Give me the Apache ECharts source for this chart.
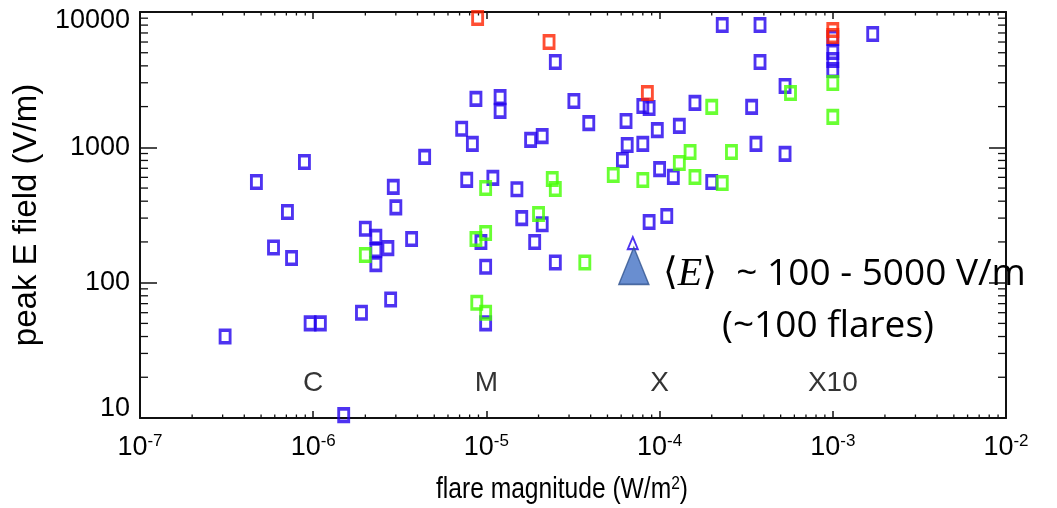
<!DOCTYPE html>
<html><head><meta charset="utf-8">
<script src="https://cdn.jsdelivr.net/npm/echarts@6/dist/echarts.min.js"></script>
<style>html,body{margin:0;padding:0;background:#fff}#c{width:1057px;height:508px}</style>
</head><body><div id="c"></div>
<script>
// ---- data ----
const xTickExponents = [-7, -6, -5, -4, -3, -2];
const yTickLabels = ['10', '100', '1000', '10000'];
const minorMultipliers = [2, 3, 4, 5, 6, 7, 8, 9];
const xDecades = [1e-7, 1e-6, 1e-5, 1e-4, 1e-3];
const yDecades = [10, 100, 1000];

const blueFlares = [
  [3.1e-7, 40], [4.7e-7, 555], [5.9e-7, 182], [7.1e-7, 333], [7.5e-7, 152],
  [8.9e-7, 780], [9.6e-7, 50], [1.1e-6, 50], [1.5e-6, 10.5], [1.9e-6, 60],
  [2.0e-6, 250], [2.3e-6, 218], [2.3e-6, 174], [2.3e-6, 137], [2.7e-6, 180],
  [2.8e-6, 75], [2.9e-6, 510], [3.0e-6, 360], [3.7e-6, 210], [4.4e-6, 850],
  [7.2e-6, 1370], [8.3e-6, 1060], [7.7e-6, 575], [8.7e-6, 2280], [1.2e-5, 2350],
  [1.2e-5, 1860], [1.09e-5, 595], [9.3e-6, 200], [9.9e-6, 131], [9.9e-6, 50],
  [1.5e-5, 490], [1.6e-5, 300], [2.1e-5, 270], [1.9e-5, 200], [1.8e-5, 1135],
  [2.1e-5, 1210], [2.5e-5, 4270], [2.5e-5, 141], [3.2e-5, 2200], [3.9e-5, 1510],
  [6.1e-5, 805], [6.5e-5, 1040], [8.0e-5, 1060], [6.4e-5, 1565], [8.0e-5, 2020],
  [8.7e-5, 1950], [9.7e-5, 1340], [1.0e-4, 690], [1.2e-4, 605], [8.7e-5, 281],
  [1.1e-4, 311], [1.3e-4, 1440], [1.6e-4, 2130], [2.0e-4, 555], [2.3e-4, 8020],
  [3.8e-4, 8020], [3.8e-4, 4270], [3.4e-4, 1990], [3.6e-4, 1060], [5.3e-4, 2840],
  [5.3e-4, 895], [1.0e-3, 6430], [1.0e-3, 5060], [1.0e-3, 4420], [1.0e-3, 3730],
  [1.7e-3, 6880]
];
const greenFlares = [
  [2.0e-6, 160], [9.9e-6, 500], [8.7e-6, 210], [9.9e-6, 233], [8.8e-6, 71],
  [9.9e-6, 60], [2.0e-5, 322], [2.4e-5, 583], [2.5e-5, 492], [3.7e-5, 141],
  [5.4e-5, 625], [8.0e-5, 574], [1.3e-4, 766], [1.5e-4, 924], [1.6e-4, 604],
  [2.0e-4, 1990], [2.3e-4, 545], [2.6e-4, 924], [5.7e-4, 2520], [1.0e-3, 2990],
  [1.0e-3, 1680]
];
const redFlares = [
  [8.9e-6, 9030], [2.3e-5, 6000], [8.5e-5, 2520], [1.0e-3, 7360], [1.0e-3, 6650]
];
const triangleFlares = [[7.0e-5, 196]];
const meanMarker = [[7.1e-5, 133]];
const classPositions = [1e-6, 1e-5, 1e-4, 1e-3];
const classNames = ['C', 'M', 'X', 'X10'];
const classLabelY = 18;

// ---- styling ----
const SANS = '"Liberation Sans", Arial, Helvetica, sans-serif';
const AXC = '#111';
const BLUE = '#2200ee', GREEN = '#44ff00', RED = '#ff2200';

const xMinor = [];
xDecades.forEach(d => minorMultipliers.forEach(m => xMinor.push([m * d, 10])));
const yMinor = [];
yDecades.forEach(d => minorMultipliers.forEach(m => yMinor.push([1e-7, m * d])));

function squareSeries(name, data, color, z) {
  return {
    name, type: 'scatter', data, z,
    symbol: 'rect', symbolSize: [10, 12.5],
    itemStyle: { color: 'rgba(0,0,0,0)', borderColor: color, borderWidth: 3.2 },
    emphasis: { disabled: true }, silent: true
  };
}

const chart = echarts.init(document.getElementById('c'), null, { renderer: 'canvas' });
const xBase = {
  type: 'log', logBase: 10, min: 1e-7, max: 1e-2,
  splitLine: { show: false }, minorTick: { show: false },
  axisLine: { show: true, lineStyle: { color: AXC, width: 2 } },
  axisTick: { show: true, inside: true, length: 7, lineStyle: { color: AXC, width: 1.5 } }
};
const yBase = {
  type: 'log', logBase: 10, min: 10, max: 10000,
  splitLine: { show: false }, minorTick: { show: false },
  axisLine: { show: true, lineStyle: { color: AXC, width: 2 } },
  axisTick: { show: true, inside: true, length: 17, lineStyle: { color: AXC, width: 1.5 } }
};

chart.setOption({
  animation: false,
  backgroundColor: '#fff',
  grid: { left: 140, right: 51, top: 12, bottom: 90 },
  xAxis: [
    Object.assign({}, xBase, {
      position: 'bottom',
      axisLabel: {
        margin: 15,
        formatter: v => '{b|10}{s|' + Math.round(Math.log10(v)) + '}',
        rich: {
          b: { fontFamily: SANS, fontSize: 27, color: '#000', lineHeight: 30 },
          s: { fontFamily: SANS, fontSize: 17, color: '#000', verticalAlign: 'top', lineHeight: 17 }
        }
      }
    }),
    Object.assign({}, xBase, { position: 'top', axisLabel: { show: false } })
  ],
  yAxis: [
    Object.assign({}, yBase, {
      position: 'left',
      name: 'peak E field (V/m)',
      nameLocation: 'middle', nameGap: 97, nameRotate: 90,
      nameTextStyle: { fontFamily: SANS, fontSize: 33, color: '#000' },
      axisLabel: {
        margin: 10,
        formatter: v => {
          const s = String(Math.round(v));
          if (s === yTickLabels[3]) return '{hi|' + s + '}';
          if (s === yTickLabels[0]) return '{lo|' + s + '}';
          return '{n|' + s + '}';
        },
        rich: {
          n: { fontFamily: SANS, fontSize: 27, color: '#000' },
          hi: { fontFamily: SANS, fontSize: 27, color: '#000', padding: [18, 0, 0, 0] },
          lo: { fontFamily: SANS, fontSize: 27, color: '#000', padding: [0, 0, 19, 0] }
        }
      }
    }),
    Object.assign({}, yBase, { position: 'right', axisLabel: { show: false } })
  ],
  series: [
    {
      type: 'custom', name: 'xMinorTicks', data: xMinor, clip: false, silent: true, z: 1,
      encode: { x: 0, y: 1 },
      renderItem: (p, api) => {
        const v = api.value(0);
        const b = api.coord([v, 10]), t = api.coord([v, 10000]);
        return { type: 'group', children: [
          { type: 'line', shape: { x1: b[0], y1: b[1], x2: b[0], y2: b[1] - 3.5 }, style: { stroke: AXC, lineWidth: 1.3 } },
          { type: 'line', shape: { x1: t[0], y1: t[1], x2: t[0], y2: t[1] + 3.5 }, style: { stroke: AXC, lineWidth: 1.3 } }
        ] };
      }
    },
    {
      type: 'custom', name: 'yMinorTicks', data: yMinor, clip: false, silent: true, z: 1,
      encode: { x: 0, y: 1 },
      renderItem: (p, api) => {
        const v = api.value(1);
        const l = api.coord([1e-7, v]), r = api.coord([1e-2, v]);
        return { type: 'group', children: [
          { type: 'line', shape: { x1: l[0], y1: l[1], x2: l[0] + 8, y2: l[1] }, style: { stroke: AXC, lineWidth: 1.3 } },
          { type: 'line', shape: { x1: r[0], y1: r[1], x2: r[0] - 8, y2: r[1] }, style: { stroke: AXC, lineWidth: 1.3 } }
        ] };
      }
    },
    squareSeries('blue', blueFlares, BLUE, 3),
    squareSeries('red', redFlares, RED, 4),
    squareSeries('green', greenFlares, GREEN, 5),
    {
      name: 'triangle', type: 'scatter', data: triangleFlares, z: 5, silent: true,
      symbol: 'triangle', symbolSize: [10, 12],
      itemStyle: { color: '#fff', borderColor: BLUE, borderWidth: 2 }
    },
    {
      name: 'mean', type: 'scatter', data: meanMarker, z: 6, silent: true,
      symbol: 'triangle', symbolSize: [30, 37],
      itemStyle: { color: '#4472c4', borderColor: '#2f528f', borderWidth: 1.5 }
    },
    {
      name: 'classes', type: 'scatter', z: 6, silent: true,
      data: classPositions.map(x => [x, classLabelY]),
      symbolSize: 0,
      label: {
        show: true, position: 'inside',
        formatter: p => classNames[p.dataIndex],
        fontFamily: SANS, fontSize: 28, color: '#000'
      }
    }
  ],
  graphic: [
    {
      type: 'text', x: 562, y: 474, scaleX: 0.82, z: 10, silent: true,
      style: {
        text: '{a|flare magnitude (W/m}{s|2}{a|)}',
        align: 'center', verticalAlign: 'top',
        rich: {
          a: { fontFamily: SANS, fontSize: 30, color: '#000', lineHeight: 32 },
          s: { fontFamily: SANS, fontSize: 19, color: '#000', verticalAlign: 'top', lineHeight: 19 }
        }
      }
    },
    {
      type: 'text', left: 663, top: 254, z: 10, silent: true,
      style: {
        text: '{br|\u27E8}{e|E}{br|\u27E9}{t|  ~ 100 - 5000 V/m}',
        rich: {
          br: { fontFamily: '"DejaVu Sans", sans-serif', fontSize: 38, color: '#000', lineHeight: 46 },
          e: { fontFamily: '"Liberation Serif", serif', fontStyle: 'italic', fontSize: 40, color: '#000', lineHeight: 46 },
          t: { fontFamily: '"Open Sans", sans-serif', fontSize: 37, color: '#000', lineHeight: 46 }
        }
      }
    },
    {
      type: 'text', left: 722, top: 308, z: 10, silent: true,
      style: { text: '(~100 flares)', fontFamily: '"Open Sans", sans-serif', fontSize: 37, fill: '#000' }
    }
  ]
});
</script></body></html>
